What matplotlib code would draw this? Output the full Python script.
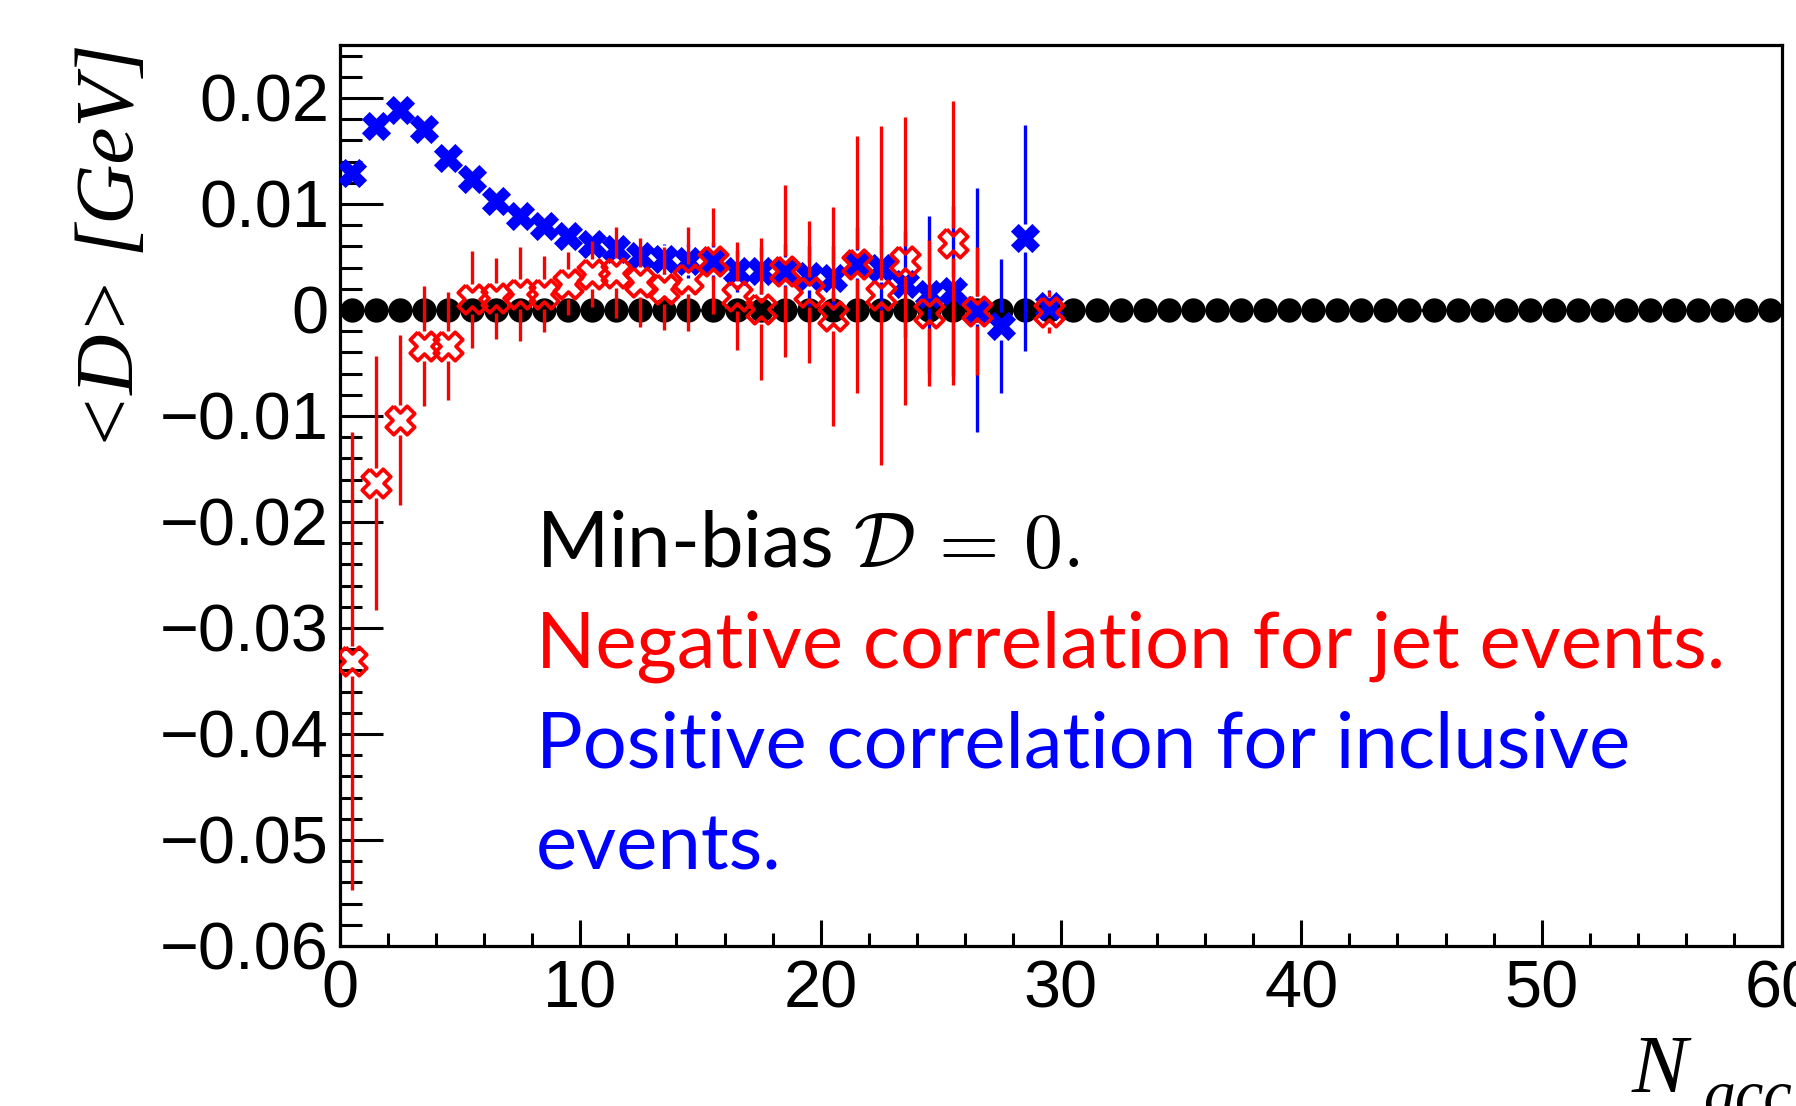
import matplotlib
matplotlib.use("Agg")
import matplotlib.pyplot as plt
import numpy as np

# bin centres of N_acc
x_minbias = np.arange(0.5, 60, 1.0)
y_minbias = np.zeros_like(x_minbias)

x_incl = np.arange(0.5, 30, 1.0)
y_incl = [0.01295, 0.01736, 0.01884, 0.01705, 0.01437, 0.01233, 0.01028, 0.00887, 0.00792, 0.00698,
          0.0062, 0.00572, 0.0051, 0.00478, 0.0046, 0.0046, 0.0037, 0.0037, 0.0037, 0.0032,
          0.003, 0.0043, 0.004, 0.0025, 0.0015, 0.0018, 0.0, -0.0015, 0.0068, 0.0004]
e_incl = [0.0004, 0.0004, 0.0005, 0.0005, 0.0006, 0.0006, 0.0007, 0.0008, 0.0009, 0.001,
          0.0011, 0.0012, 0.0013, 0.0014, 0.0016, 0.0018, 0.002, 0.0022, 0.0025, 0.0028,
          0.003, 0.0035, 0.004, 0.005, 0.0074, 0.008, 0.0115, 0.0063, 0.0107, 0.0015]

x_jet = [0.5, 1.5, 2.5, 3.5, 4.5, 5.5, 6.5, 7.5, 8.5, 9.5, 10.5, 11.5, 12.5, 13.5, 14.5,
         15.5, 16.5, 17.5, 18.5, 19.5, 20.5, 21.5, 22.5, 23.5, 24.5, 25.5, 26.5, 29.5]
y_jet = [-0.0331, -0.0163, -0.0104, -0.0034, -0.0034, 0.001, 0.0011, 0.0015, 0.0015, 0.0025,
         0.0034, 0.0035, 0.0026, 0.002, 0.0029, 0.0046, 0.0013, 0.0001, 0.0037, 0.0017,
         -0.0006, 0.0043, 0.0014, 0.0046, -0.0003, 0.0063, -0.0001, -0.0002]
e_jet = [0.0216, 0.012, 0.008, 0.0057, 0.0051, 0.0046, 0.0038, 0.0044, 0.0036, 0.003,
         0.0031, 0.0043, 0.0042, 0.0039, 0.0049, 0.005, 0.0051, 0.0067, 0.0081, 0.0067,
         0.0103, 0.0121, 0.016, 0.0136, 0.0069, 0.0134, 0.006, 0.002]

x_ticks = [0, 10, 20, 30, 40, 50, 60]
y_ticks = [-0.06, -0.05, -0.04, -0.03, -0.02, -0.01, 0, 0.01, 0.02]
y_ticklabels = ["\u22120.06", "\u22120.05", "\u22120.04", "\u22120.03", "\u22120.02", "\u22120.01", "0", "0.01", "0.02"]

W, H = 1796, 1106
fig = plt.figure(figsize=(W / 100, H / 100), dpi=100)
ax = fig.add_axes([340 / W, 1 - 946 / H, 1442 / W, 901 / H])
ax.set_xlim(0, 60)
ax.set_ylim(-0.06, 0.025)

data_per_px = 0.085 / 901.0

# thick diagonal cross, like ROOT's heavy X markers
a = 0.36
plus = np.array([(a, 1), (a, a), (1, a), (1, -a), (a, -a), (a, -1), (-a, -1),
                 (-a, -a), (-1, -a), (-1, a), (-a, a), (-a, 1), (a, 1)])
rot = np.array([[np.cos(np.pi / 4), -np.sin(np.pi / 4)], [np.sin(np.pi / 4), np.cos(np.pi / 4)]])
xmark = plus @ rot.T


def gapped_bars(axis, xs, ys, errs, gap_px, color, lw, z):
    gap = gap_px * data_per_px
    for xv, yv, ev in zip(xs, ys, errs):
        if ev > gap:
            axis.vlines(xv, yv + gap, yv + ev, color=color, lw=lw, zorder=z)
            axis.vlines(xv, yv - ev, yv - gap, color=color, lw=lw, zorder=z)


# min-bias: black dots with bin-width bars
ax.errorbar(x_minbias, y_minbias, xerr=0.5, fmt="o", color="black", ms=16.5,
            elinewidth=2.3, capsize=0, zorder=2)

# inclusive: blue filled crosses
gapped_bars(ax, x_incl, y_incl, e_incl, 14, "#0000ff", 2.4, 3)
ax.plot(x_incl, y_incl, marker=xmark, color="#0000ff", ms=21, mew=0, ls="none", zorder=3)

# jet: red open crosses
gapped_bars(ax, x_jet, y_jet, e_jet, 15, "#ff0000", 2.4, 4)
ax.plot(x_jet, y_jet, marker=xmark, mfc="none", mec="#ff0000", ms=20.5, mew=2.7, ls="none", zorder=4)

ax.set_xticks(x_ticks)
ax.set_xticks(np.arange(0, 61, 2), minor=True)
ax.set_yticks(y_ticks)
ax.set_yticklabels(y_ticklabels)
ax.set_yticks(np.arange(-0.06, 0.0241, 0.002), minor=True)
ax.tick_params(which="both", direction="in", top=False, right=False, width=2.2,
               labelsize=48, labelfontfamily="Liberation Sans")
ax.tick_params(axis="y", which="major", length=31, pad=8)
ax.tick_params(axis="y", which="minor", length=16)
ax.tick_params(axis="x", which="major", length=19, pad=10)
ax.tick_params(axis="x", which="minor", length=9.5)
for s in ax.spines.values():
    s.set_linewidth(2.3)

fig.text(113 / W, 1 - 247 / H, "<D> [GeV]", rotation=90, ha="center", va="center",
         family="Liberation Serif", style="italic", fontsize=60)
fig.text(1632 / W, 1 - 1092 / H, "N", ha="left", va="baseline",
         family="Liberation Serif", style="italic", fontsize=60)
fig.text(1703 / W, 1 - 1113 / H, "acc", ha="left", va="baseline",
         family="Liberation Serif", style="italic", fontsize=46)

fig.text(536 / W, 1 - 567 / H, r"Min-bias $\mathcal{D}\,=\,0.$", color="black",
         fontsize=56, family="Lato", math_fontfamily="cm", va="baseline")
fig.text(536 / W, 1 - 668 / H, "Negative correlation for jet events.", color="#ff0000",
         fontsize=56, family="Lato", va="baseline")
fig.text(536 / W, 1 - 768 / H, "Positive correlation for inclusive", color="#0000ff",
         fontsize=56, family="Lato", va="baseline")
fig.text(536 / W, 1 - 870 / H, "events.", color="#0000ff",
         fontsize=56, family="Lato", va="baseline")

fig.savefig("out.png", dpi=100)
